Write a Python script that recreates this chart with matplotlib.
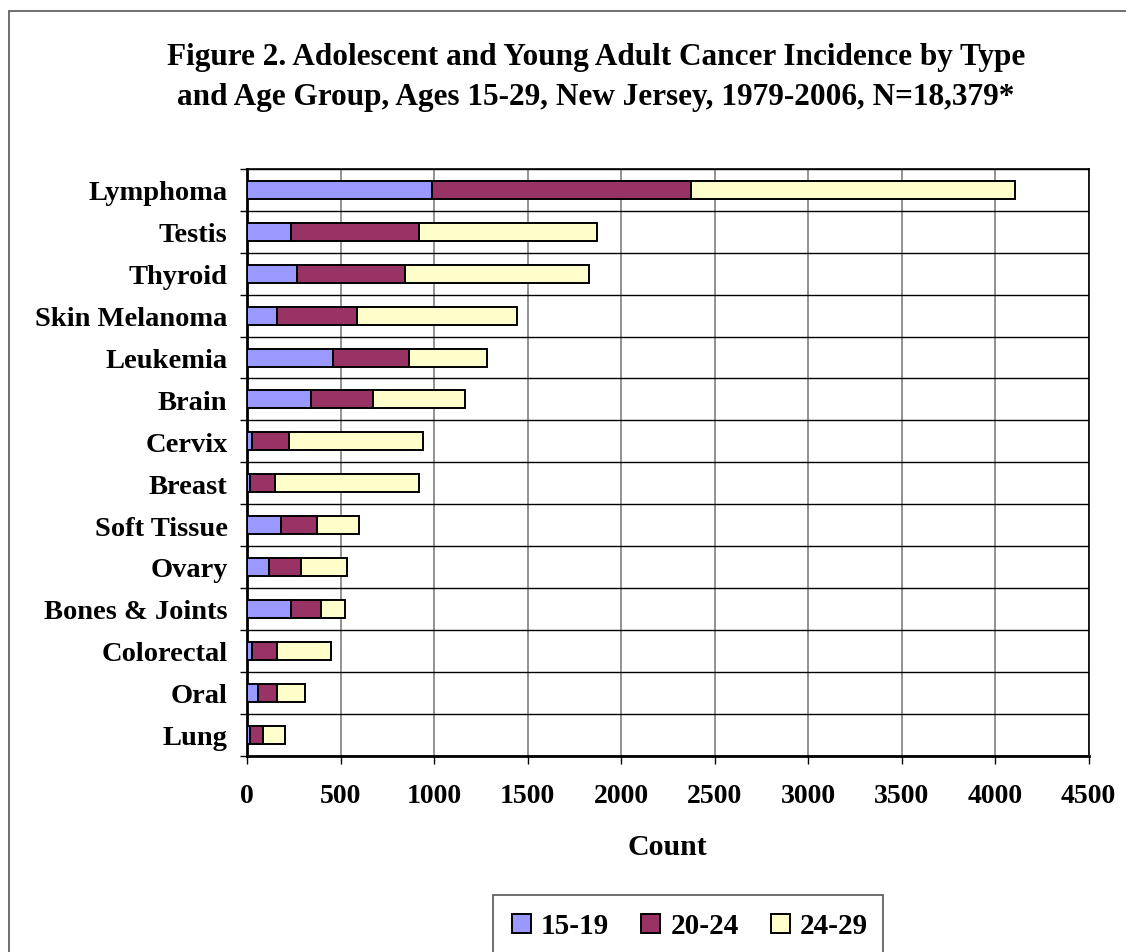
import numpy as np
import matplotlib
matplotlib.use("Agg")
import matplotlib.pyplot as plt
from matplotlib.patches import Rectangle

plt.rcParams['font.family'] = ['Liberation Serif', 'DejaVu Serif']
plt.rcParams['font.weight'] = 'bold'

# cancer types, top to bottom
types = ["Lymphoma", "Testis", "Thyroid", "Skin Melanoma", "Leukemia", "Brain",
         "Cervix", "Breast", "Soft Tissue", "Ovary", "Bones & Joints",
         "Colorectal", "Oral", "Lung"]
age_15_19 = [990, 234, 268, 159, 458, 341, 27, 18, 180, 116, 234, 29, 61, 18]
age_20_24 = [1385, 686, 576, 428, 409, 331, 196, 130, 193, 173, 160, 131, 98, 66]
age_24_29 = [1730, 953, 984, 856, 415, 494, 717, 772, 224, 246, 130, 288, 151, 118]
groups = ["15-19", "20-24", "24-29"]
colors = ["#9999FF", "#993366", "#FFFFCC"]

W, H = 1126, 953
fig = plt.figure(figsize=(W / 100, H / 100), dpi=100)

# outer chart border (Excel chart area)
fig.patches.append(Rectangle((9 / W, -0.05), 1.2, 1 - 12 / H + 0.05,
                             transform=fig.transFigure, fill=False,
                             edgecolor="#555555", linewidth=1.2))

ax = fig.add_axes([247 / W, 1 - 756.5 / H, (1088.5 - 247) / W, (756.5 - 170) / H])

y = np.arange(len(types))
left = np.zeros(len(types))
for vals, lab, col in zip([age_15_19, age_20_24, age_24_29], groups, colors):
    ax.barh(y, vals, left=left, height=0.43, color=col, edgecolor="black",
            linewidth=1.4, label=lab, zorder=3)
    left = left + np.array(vals)

ax.set_ylim(len(types) - 0.5, -0.5)
ax.set_xlim(0, 4500)
ax.set_xticks(np.arange(0, 4501, 500))
ax.set_yticks(y)
ax.set_yticklabels(types)
ax.set_yticks(np.arange(-0.5, len(types), 1.0), minor=True)

ax.tick_params(axis="y", which="major", length=0, pad=14, labelsize=20.5)
ax.tick_params(axis="y", which="minor", length=5, width=1, direction="out")
ax.tick_params(axis="x", length=6, width=1, direction="out", pad=14, labelsize=20)

ax.grid(axis="x", which="major", color="#808080", linewidth=1.2, zorder=0)
ax.grid(axis="y", which="minor", color="black", linewidth=1.0, zorder=0)
ax.set_axisbelow(True)

for s in ax.spines.values():
    s.set_linewidth(1.2)
    s.set_color("black")
ax.spines["left"].set_linewidth(2)
ax.spines["bottom"].set_linewidth(2)

ax.set_xlabel("Count", fontsize=21.5, fontweight="bold", labelpad=18)

fig.text(596 / W, 1 - 58 / H, "Figure 2. Adolescent and Young Adult Cancer Incidence by Type",
         ha="center", va="center", fontsize=22.5, fontweight="bold")
fig.text(596 / W, 1 - 98 / H, "and Age Group, Ages 15-29, New Jersey, 1979-2006, N=18,379*",
         ha="center", va="center", fontsize=22.5, fontweight="bold")

# legend box runs off the bottom edge
fig.patches.append(Rectangle((493 / W, -0.05), (883 - 493) / W, 0.05 + 1 - 896 / H,
                             transform=fig.transFigure, fill=False,
                             edgecolor="#555555", linewidth=1.2))
fig.legend(loc="center", bbox_to_anchor=(690 / W, 1 - 927 / H), ncol=3,
           frameon=False, fontsize=21, handlelength=0.65, handleheight=0.65,
           handletextpad=0.35, columnspacing=1.1)

fig.savefig("out.png", dpi=100)
